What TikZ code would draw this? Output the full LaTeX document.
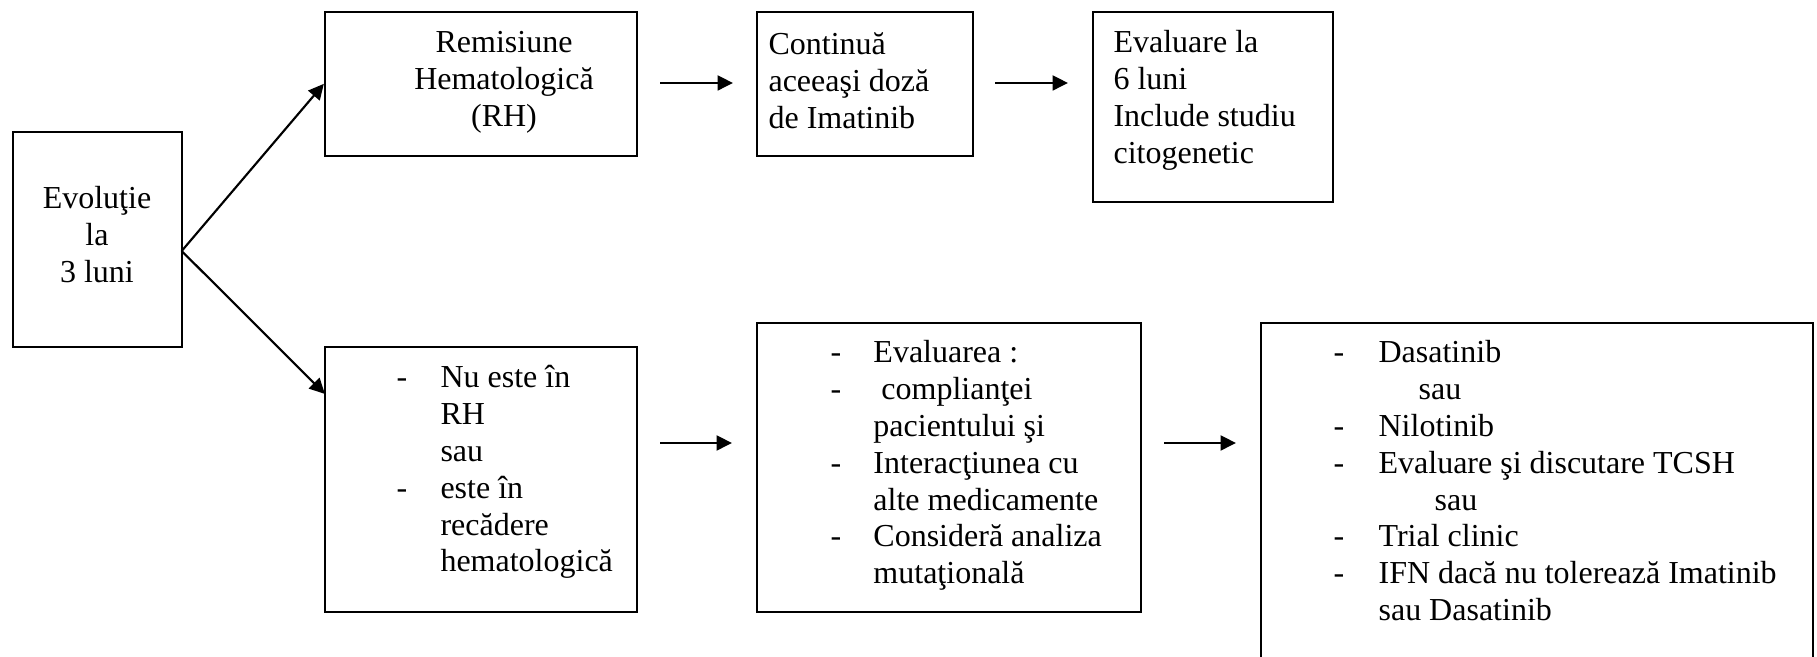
\documentclass[tikz,border=0pt]{standalone}
\usepackage{fontspec}
\setmainfont{Liberation Serif}
\usetikzlibrary{arrows.meta,fit,calc}

% dash column of a list line
\newcommand{\lidash}[1]{\makebox[#1][l]{-}}

\begin{document}
\begin{tikzpicture}[x=0.375pt,y=-0.375pt,
  box/.style={draw, line width=0.85pt, inner sep=0pt, rectangle},
  txt/.style={inner sep=0pt, font=\fontsize{12}{13.8}\selectfont},
  arr/.style={line width=0.8pt, -{Triangle[length=5.8pt,width=5.6pt]}}]
\useasboundingbox (0,0) rectangle (1817,657);
\clip (0,0) rectangle (1817,657);

% boxes
\node[box, fit={(12.7,131.7) (181.7,347)}] (evo) {};
\node[box, fit={(325,11.7) (637,156)}] (rem) {};
\node[box, fit={(757,11.7) (973,156)}] (cont) {};
\node[box, fit={(1092.7,11.7) (1333,202)}] (ev6) {};
\node[box, fit={(325,347) (637,612)}] (nurh) {};
\node[box, fit={(757,323) (1141,612)}] (evl) {};
\node[box, fit={(1261,323) (1813,720)}] (alt) {};

% texts
\node[txt, anchor=base] (evoT) at (97,209)
  {\begin{tabular}[t]{@{}c@{}}Evoluţie\\la\\3 luni\end{tabular}};
\node[txt, anchor=base] (remT) at (504,53)
  {\begin{tabular}[t]{@{}c@{}}Remisiune\\Hematologică\\(RH)\end{tabular}};
\node[txt, anchor=base west] (contT) at (768,55)
  {\begin{tabular}[t]{@{}l@{}}Continuă\\aceeaşi doză\\de Imatinib\end{tabular}};
\node[txt, anchor=base west] (ev6T) at (1113,53)
  {\begin{tabular}[t]{@{}l@{}}Evaluare la\\6 luni\\Include studiu\\citogenetic\end{tabular}};
\node[txt, anchor=base west] (nurhT) at (396,388)
  {\begin{tabular}[t]{@{}l@{}l@{}}
   \lidash{16.5pt} & Nu este în\\
   & RH\\
   & sau\\
   \lidash{16.5pt} & este în\\
   & recădere\\
   & hematologică
  \end{tabular}};
\node[txt, anchor=base west] (evlT) at (830,363)
  {\begin{tabular}[t]{@{}l@{}l@{}}
   \lidash{16.1pt} & Evaluarea :\\
   \lidash{16.1pt} & \ complianţei\\
   & pacientului şi\\
   \lidash{16.1pt} & Interacţiunea cu\\
   & alte medicamente\\
   \lidash{16.1pt} & Consideră analiza\\
   & mutaţională
  \end{tabular}};
\node[txt, anchor=base west] (altT) at (1333,363)
  {\begin{tabular}[t]{@{}l@{}l@{}}
   \lidash{16.9pt} & Dasatinib\\
   & \hspace*{15pt}sau\\
   \lidash{16.9pt} & Nilotinib\\
   \lidash{16.9pt} & Evaluare şi discutare TCSH\\
   & \hspace*{21pt}sau\\
   \lidash{16.9pt} & Trial clinic\\
   \lidash{16.9pt} & IFN dacă nu tolerează Imatinib\\
   & sau Dasatinib
  \end{tabular}};

% connector end points
\coordinate (split) at (181.7,251);
\coordinate (nuin) at (325,394);
\coordinate (a1s) at (660,83);
\coordinate (a1e) at (733,83);
\coordinate (a2s) at (995,83);
\coordinate (a2e) at (1068,83);
\coordinate (b1s) at (660,443);
\coordinate (b1e) at (732,443);
\coordinate (b2s) at (1164,443);
\coordinate (b2e) at (1236,443);

% connectors
\draw[arr] (split) -- (rem.west);
\draw[arr] (split) -- (nuin);
\draw[arr] (a1s) -- (a1e);
\draw[arr] (a2s) -- (a2e);
\draw[arr] (b1s) -- (b1e);
\draw[arr] (b2s) -- (b2e);
\end{tikzpicture}
\end{document}
